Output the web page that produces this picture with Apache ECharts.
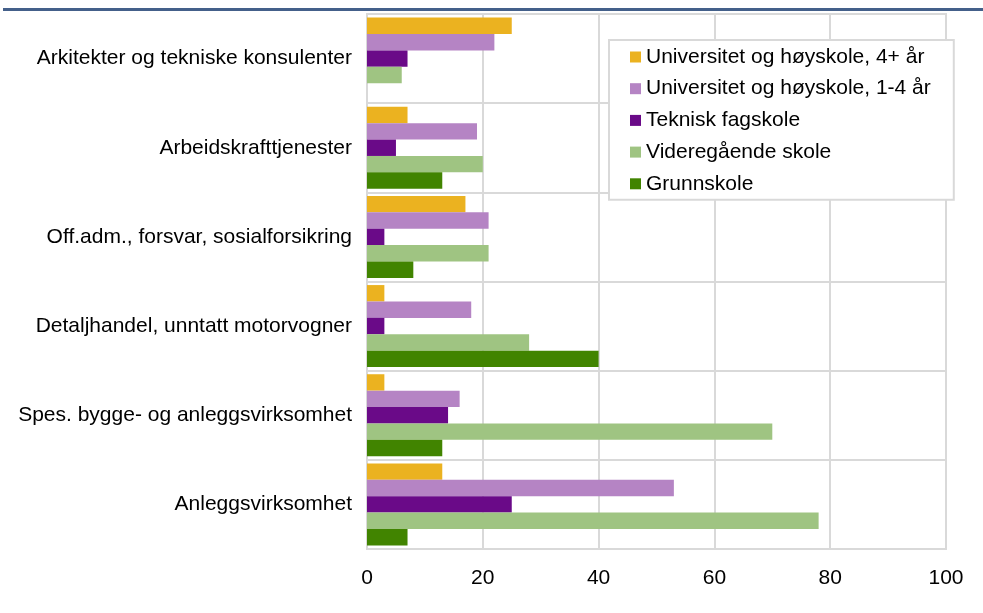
<!DOCTYPE html>
<html>
<head>
<meta charset="utf-8">
<script src="https://cdn.jsdelivr.net/npm/echarts@6/dist/echarts.min.js"></script>
<style>
  html, body { margin: 0; padding: 0; background: #fff; }
  #chart { width: 983px; height: 613px; }
</style>
</head>
<body>
<div id="chart"></div>
<script>
// næringer (ovenfra og ned)
const categories = [
  'Arkitekter og tekniske konsulenter',
  'Arbeidskrafttjenester',
  'Off.adm., forsvar, sosialforsikring',
  'Detaljhandel, unntatt motorvogner',
  'Spes. bygge- og anleggsvirksomhet',
  'Anleggsvirksomhet'
]
const seriesNames = [
  'Universitet og høyskole, 4+ år',
  'Universitet og høyskole, 1-4 år',
  'Teknisk fagskole',
  'Videregående skole',
  'Grunnskole'
]
const uni4 = [25, 7, 17, 3, 3, 13]
const uni14 = [22, 19, 21, 18, 16, 53]
const fagskole = [7, 5, 3, 3, 14, 25]
const vgs = [6, 20, 21, 28, 70, 78]
const grunnskole = [0, 13, 8, 40, 13, 7]
const xTicks = [0, 20, 40, 60, 80, 100]

const colors = ['#ebb220', '#b584c4', '#6a0a88', '#9fc482', '#418400']
const values = [uni4, uni14, fagskole, vgs, grunnskole]
const font = 'Liberation Sans, Arial, sans-serif'

const chart = echarts.init(document.getElementById('chart'))
chart.setOption({
  animation: false,
  textStyle: { fontFamily: font },
  graphic: [{
    type: 'rect',
    shape: { x: 3, y: 8, width: 980, height: 3 },
    style: { fill: '#44608a' }
  }],
  grid: {
    left: 367,
    right: 37,
    top: 14,
    bottom: 64,
    show: true,
    borderColor: '#d9d9d9',
    borderWidth: 2
  },
  legend: {
    data: seriesNames,
    orient: 'vertical',
    left: 609,
    top: 40,
    padding: [5, 23, 4, 21],
    itemWidth: 11,
    itemHeight: 11,
    itemGap: 7.7,
    icon: 'rect',
    backgroundColor: '#fff',
    borderColor: '#d9d9d9',
    borderWidth: 2,
    borderRadius: 0,
    textStyle: { fontSize: 21, color: '#000', lineHeight: 24, fontFamily: font }
  },
  xAxis: {
    type: 'value',
    min: xTicks[0],
    max: xTicks[xTicks.length - 1],
    interval: 20,
    axisLine: { show: false },
    axisTick: { show: false },
    axisLabel: { fontSize: 21, color: '#000', margin: 19 },
    splitLine: { lineStyle: { color: '#d9d9d9', width: 2 } }
  },
  yAxis: {
    type: 'category',
    inverse: true,
    data: categories,
    axisLine: { show: false },
    axisTick: { show: false },
    axisLabel: { fontSize: 21, color: '#000', margin: 15 },
    splitLine: { show: true, lineStyle: { color: '#d9d9d9', width: 2 } }
  },
  series: seriesNames.map((name, i) => ({
    name: name,
    type: 'bar',
    data: values[i],
    itemStyle: { color: colors[i] },
    barGap: '0%',
    barCategoryGap: '8%'
  }))
})
</script>
</body>
</html>
